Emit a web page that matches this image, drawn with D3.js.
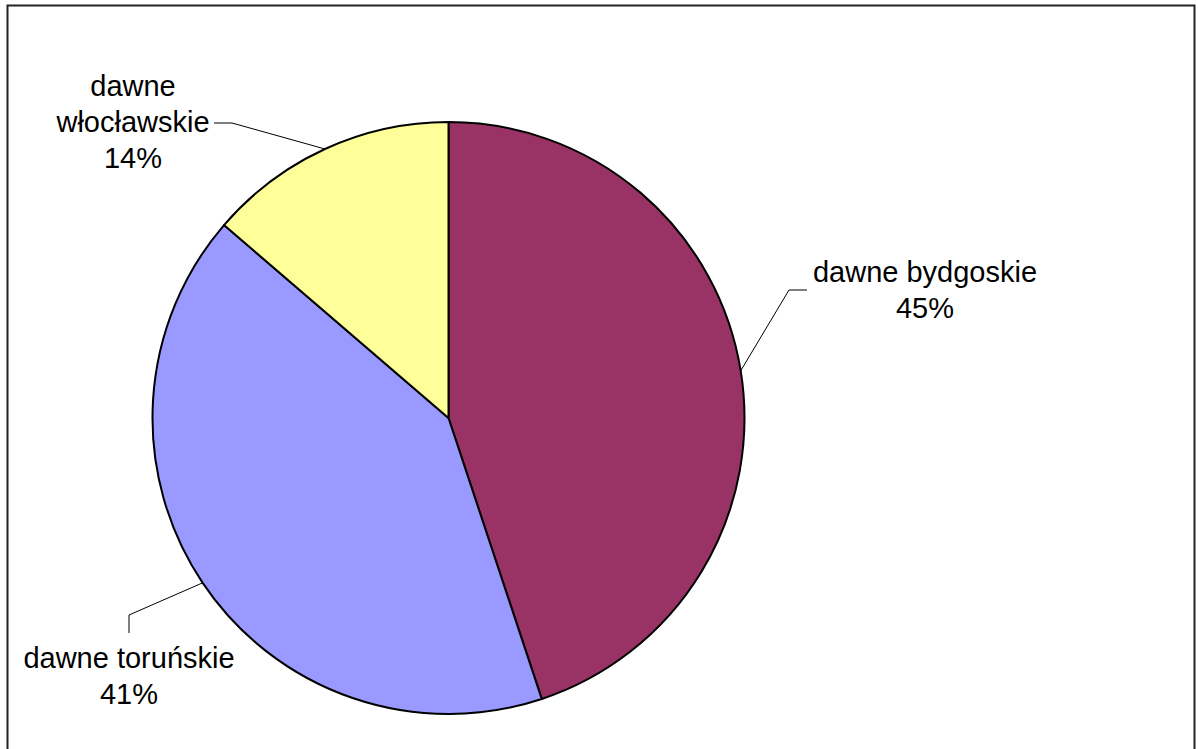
<!DOCTYPE html>
<html>
<head>
<meta charset="utf-8">
<script src="https://cdn.jsdelivr.net/npm/d3@7"></script>
<style>
  html, body { margin: 0; padding: 0; background: #fff; }
  svg { display: block; }
</style>
</head>
<body>
<svg id="chart" width="1198" height="749"></svg>
<script>
// ---- data ----
const categories = ["dawne bydgoskie", "dawne toruńskie", "dawne włocławskie"];
const values = [44.9, 41.4, 13.7];
const labelLines = [["dawne bydgoskie"], ["dawne toruńskie"], ["dawne", "włocławskie"]];
const colors = ["#993366", "#9999FF", "#FFFF99"];

// ---- layout (label anchors: text centre x, first baseline y, elbow of leader line) ----
const labelLayout = [
  { x: 925, y: 282, elbow: [789, 290], end: [807, 290] },
  { x: 129, y: 668, elbow: [129, 615], end: [129, 633] },
  { x: 133, y: 96,  elbow: [232, 123], end: [214, 123] }
];

const W = 1198, H = 749;
const cx = 448.5, cy = 418, R = 296;
const fontSize = 29, lineH = 36;

const svg = d3.select("#chart");

// outer frame
svg.append("rect")
  .attr("x", 7.5).attr("y", 5.5)
  .attr("width", 1187).attr("height", 770)
  .attr("fill", "none")
  .attr("stroke", "#222")
  .attr("stroke-width", 2);

const data = categories.map((c, i) => ({ name: c, value: values[i], i }));
const total = d3.sum(values);

const pie = d3.pie().value(d => d.value).sort(null);
const arcs = pie(data);

const arc = d3.arc().innerRadius(0).outerRadius(R);
const edgeArc = d3.arc().innerRadius(R).outerRadius(R);

const g = svg.append("g").attr("transform", `translate(${cx},${cy})`);

g.selectAll("path.slice")
  .data(arcs)
  .join("path")
  .attr("class", "slice")
  .attr("d", arc)
  .attr("fill", (d, i) => colors[i])
  .attr("stroke", "#000")
  .attr("stroke-width", 2)
  .attr("stroke-linejoin", "round");

// leader lines
arcs.forEach((a, i) => {
  const c = edgeArc.centroid(a);
  const L = labelLayout[i];
  const pts = [[c[0] + cx, c[1] + cy], L.elbow, L.end];
  svg.append("path")
    .attr("d", d3.line()(pts))
    .attr("fill", "none")
    .attr("stroke", "#000")
    .attr("stroke-width", 1);
});

// labels
const fmt = v => Math.round(v / total * 100) + "%";
arcs.forEach((a, i) => {
  const L = labelLayout[i];
  const lines = labelLines[i].concat([fmt(a.data.value)]);
  const t = svg.append("text")
    .attr("text-anchor", "middle")
    .attr("font-family", "'Liberation Sans', Arial, sans-serif")
    .attr("font-size", fontSize)
    .attr("fill", "#000");
  lines.forEach((ln, k) => {
    t.append("tspan")
      .attr("x", L.x)
      .attr("y", L.y + k * lineH)
      .text(ln);
  });
});
</script>
</body>
</html>
